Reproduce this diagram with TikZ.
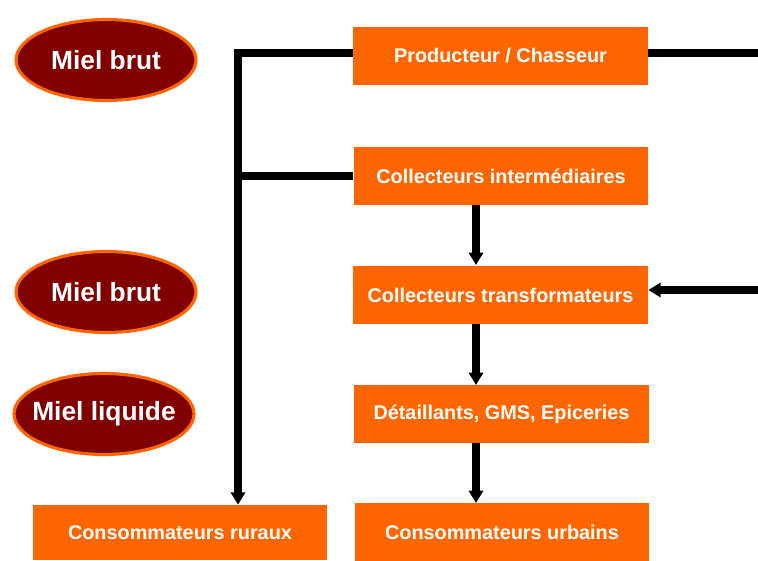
\documentclass[tikz,border=0pt]{standalone}
\usepackage{fontspec}
\setmainfont{Liberation Sans}
\usetikzlibrary{shapes.geometric,arrows.meta}
\definecolor{boxorange}{HTML}{FF6600}
\definecolor{honey}{HTML}{800000}
\begin{document}
\begin{tikzpicture}[x=0.02cm, y=0.02cm]
\tikzstyle{box}=[fill=boxorange, text=white, font=\bfseries\fontsize{11.3}{13}\selectfont, minimum width=5.9cm, minimum height=1.18cm, inner sep=0pt]
\tikzstyle{pot}=[ellipse, fill=honey, draw=boxorange, line width=1.8pt, text=white, font=\bfseries\fontsize{15}{17}\selectfont, minimum width=3.6cm, minimum height=1.62cm, inner xsep=-0.4cm, inner ysep=0pt]
\tikzstyle{flow}=[line width=4.5pt, black]
\tikzstyle{tip}=[-{Triangle[length=7pt,width=8pt]}]
\useasboundingbox (0,0) rectangle (758,-561);
\node [pot] (brut1) at (106,-60) {Miel brut};
\node [pot] (brut2) at (106,-292) {Miel brut};
\node [pot] (liquide) at (104,-414) {Miel liquide};
\node [box] (prod) at (500.5,-56) {Producteur / Chasseur};
\node [box] (inter) at (501,-176) {Collecteurs intermédiaires};
\node [box] (transf) at (500.5,-295) {Collecteurs transformateurs};
\node [box] (detail) at (501.5,-414) {Détaillants, GMS, Epiceries};
\node [box] (urbain) at (502,-532) {Consommateurs urbains};
\node [box, minimum height=1.1cm] (rural) at (180,-532.5) {Consommateurs ruraux};
\coordinate (corner) at (238,-53);
\coordinate (edgetop) at (758,-53);
\coordinate (edgemid) at (758,-290);
% collecte rurale
\draw [flow, tip] (prod.west |- corner) -- (corner) -- (corner |- rural.north);
\draw [flow] (inter.west) -- (corner |- inter.west);
% filiere urbaine
\draw [flow] (prod.east |- edgetop) -- (edgetop);
\draw [flow, tip] (edgemid) -- (transf.east |- edgemid);
\draw [flow, tip] (476,-205) -- (476,-265);
\draw [flow, tip] (476,-324) -- (476,-385);
\draw [flow, tip] (476,-443) -- (476,-503);
\end{tikzpicture}
\end{document}
